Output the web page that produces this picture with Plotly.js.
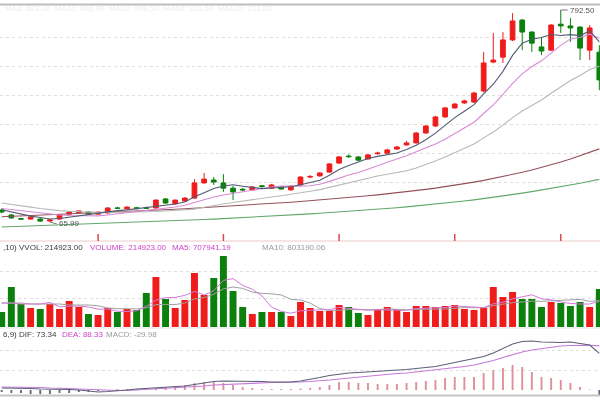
<!DOCTYPE html>
<html><head><meta charset="utf-8">
<script src="https://cdn.plot.ly/plotly-3.0.1.min.js"></script>
<style>html,body{margin:0;padding:0;background:#fff}#chart{width:600px;height:400px;filter:blur(0.35px)}</style>
</head><body><div id="chart"></div>
<script>
// ---- price candles (one per trading day, left to right) ----
const open  = [107,90,77,76,76,69.5,76,93,97,100,93,97,114,111,115,115,114,145,128,138,148,200,210,200,182,178,176,190,182,186,176,193,220,224,237,268,292,289,282,300,302,316,330,337,371,395,426,457,474,477,515,614,631,690,758,717,666,655,744,738,734,655,648];
const high  = [113,93,80,86,79,75,92,103,106,103,102,117,118,120,118,119,144,148,143,151,213,234,220,230,189,183,189,193,196,189,191,223,227,237,268,292,298,292,299,307,317,327,344,374,398,430,460,474,485,512,649,714,717,782,762,720,700,744,792.5,765,737,741,672];
const low   = [96,77,73,74,67,65.99,74,91,95,91,91,95,110,109,110,111,112,129,126,136,146,198,193,169,141,172,174,182,180,177,174,191,216,221,235,265,286,275,280,297,300,314,328,335,369,392,423,454,471,474,510,610,611,686,655,649,638,652,714,683,621,621,518];
const close = [100,80,76,83,69,73,90,100,104,93,100,114,113,117,112,113,141,131,141,148,200,213,203,182,169,176,186,188,193,179,189,220,222,234,265,289,290,278,296,302,313,323,337,371,395,426,457,470,481,508,611,621,690,755,717,679,652,741,738,731,662,731,553];

// ---- price moving averages ----
const ma5   = [108,100,92,86,81.6,76.2,78.2,83,87.2,92,97.4,102.2,105,107.6,111.4,114,119.4,122.8,127.6,134.8,152.2,166.6,181,189.2,193.4,188.6,183.2,180.2,182.4,184.4,187,193.8,200.6,208.8,226,246,260,271.2,283.6,291,295.8,302.4,314.2,329.2,347.8,370.4,397.2,423.8,445.8,468.4,505.4,538.2,582.2,637,678.8,692.4,698.6,708.8,705.4,708.2,704.8,720.6,683];
const ma10  = [112,108,104,100,96,92,90,88,87,86,86.8,90.2,94,97.4,101.7,105.7,110.8,113.9,117.6,123.1,133.1,143,151.9,158.4,164.1,170.4,174.9,180.6,185.8,188.9,187.8,188.5,190.4,195.6,205.2,216.5,226.9,235.9,246.2,258.5,270.9,281.2,292.7,306.4,319.4,333.1,349.8,369,387.5,408.1,437.9,467.7,503,541.4,573.6,598.9,618.4,645.5,671.2,693.5,698.6,709.6,695.9];
const ma20  = [131,127,122,117,112,108,105,103,101,100,99,99,99,100,100,101,102,104,106,108,110,116.6,123,127.9,132.9,138.1,142.9,147.3,151.7,156,160.5,165.8,171.2,177,184.7,193.5,200.9,208.3,216,223.7,229.4,234.9,241.6,251,262.3,274.8,288.4,302.5,316.9,333.3,354.4,374.5,397.9,423.9,446.5,466,484.1,507.3,529.4,550.8,568.3,588.7,599.5];
const ma60  = [84,85.3,86.6,88,89.3,90.7,92,93.4,94.8,96.2,97.6,99,100.5,102,103.5,105,106.6,108.2,109.9,111.6,113.4,115.2,117.1,119,121,123,125.1,127.2,129.4,131.6,133.9,136.3,138.8,141.4,144.1,146.9,149.8,152.8,155.9,159.1,162.4,165.9,169.6,173.5,177.7,182.1,186.8,191.8,197.1,202.7,208.6,214.9,221.6,228.7,236.3,244.4,253,262.1,271.8,282.1,293,304.5,316.6];
const ma120 = [49,50.1,51.2,52.3,53.4,54.5,55.6,56.7,57.8,59,60.2,61.4,62.6,63.8,65,66.2,67.5,68.8,70.1,71.4,72.8,74.3,75.8,77.4,79,80.7,82.4,84.2,86,87.9,89.8,91.8,93.8,95.9,98,100.2,102.5,104.8,107.2,109.7,112.3,115,117.8,120.7,123.8,127,130.4,134,137.8,141.8,146,150.4,155,159.8,164.8,170,175.4,181,186.8,192.8,199,205.4,212];

// ---- volume (10k units) and its averages ----
const vol     = [15,40,23,19,18,23,18,26,20,13,12,19,15,18,17,34,50,28,19,27,54,32,49,71,36,20,13,15,15,15,11,25,19,16,16,22,20,14,12,18,20,18,15,21,21,20,21,22,18,17,19,40,30,35,28,28,20,25,24,21,25,20,38];
const volMa5  = [24,24,23,23,23,24.6,20.2,20.8,21,20,17.8,18,15.8,15.4,16.2,20.6,26.8,29.4,29.6,31.6,35.6,32,36.2,46.6,48.4,41.6,37.8,31,19.8,15.6,13.8,16.2,17,17.2,17.4,19.6,18.6,17.6,16.8,17.2,16.8,16.4,16.6,18.4,19,19,19.6,21,20.4,19.6,19.4,23.2,24.8,28.2,30.4,32.2,28.2,27.2,25,23.6,23,23,25.6];
const volMa10 = [24,24,24,23,23,23,23,22,22,22,21.2,19.1,18.3,18.2,18.1,19.2,22.4,22.6,22.5,23.9,28.1,29.4,32.8,38.1,40,38.6,34.9,33.6,33.2,32,27.7,27,24,18.5,16.5,16.7,17.4,17.3,17,17.3,18.2,17.5,17.1,17.6,18.1,17.9,18,18.8,19.4,19.3,19.2,21.4,22.9,24.3,25,25.8,25.7,26,26.6,27,27.6,25.6,26.4];

// ---- MACD ----
const dif  = [4,4,3,3,2,2,2,1,0,-2,-4,-3,-2,0,2,3,5,6,7,8,11,14,17,18,18,18,17,17,16,16,16,18,21,25,29,32,34,35,36,37,38,40,41,43,45,47,51,55,59,62,67,74,83,92,97,98,96,95,95,96,93,90,73.34];
const dea  = [6,6,6,5,5,4,4,3,2,1,0,-1,-1,-1,0,1,2,3,4,5,6,8,10,11,12,13,14,14,15,15,15,16,17,18,20,22,24,26,28,29,31,33,34,36,38,40,42,44,47,50,54,59,65,71,76,80,83,86,88,89,90,89.5,88.33];
const macd = [-4,-6,-6,-8,-8,-8,-6,-6,-4,-4,-2,0,2,2,2,4,4,6,8,10,14,16,16,14,10,6,4,2,2,2,2,3,4,6,10,16,16,14,14,12,12,12,14,16,18,20,24,26,26,26,34,40,44,50,46,36,26,24,20,14,6,1,-29.98];

// ---- month boundaries (candle index) ----
const monthStarts = [10,23,35,47,58];

const UP = '#f01c1c', DOWN = '#0c800c';
const idx = close.map((_, i) => i);
const dirColor = close.map((c, i) => c >= open[i] ? UP : DOWN);

function line(y, color, axis, w) {
  return {type:'scatter', mode:'lines', x:idx, y:y, yaxis:axis, xaxis:'x',
          line:{color:color, width:w || 1.1}, hoverinfo:'skip'};
}

const traces = [
  line(ma120, '#5fa86a', 'y'),
  line(ma60, '#94505a', 'y'),
  line(ma20, '#b8b8b8', 'y'),
  line(ma10, '#d68ad6', 'y'),
  line(ma5, '#4f5a72', 'y'),
  {type:'candlestick', x:idx, open:open, high:high, low:low, close:close,
   xaxis:'x', yaxis:'y', whiskerwidth:0, hoverinfo:'skip',
   increasing:{line:{color:UP, width:1}, fillcolor:UP},
   decreasing:{line:{color:DOWN, width:1}, fillcolor:DOWN}},
  {type:'bar', x:idx, y:vol, xaxis:'x', yaxis:'y2', width:0.72,
   marker:{color:dirColor, line:{width:0}}, hoverinfo:'skip'},
  line(volMa10, '#a0a0a0', 'y2', 1),
  line(volMa5, '#d27ad8', 'y2', 1),
  {type:'bar', x:idx, y:macd, xaxis:'x', yaxis:'y3', width:0.2,
   marker:{color:macd.map(v => v >= 0 ? '#e0909a' : '#6a6a7a'), line:{width:0}}, hoverinfo:'skip'},
  line(dea, '#c678d8', 'y3', 1.1),
  line(dif, '#5a6078', 'y3', 1.1)
];

const F = 'Liberation Sans, Arial, sans-serif';
const fmt = v => v.toFixed(2);
const L = ma5.length - 1;
function txt(x, y, text, color, anchor) {
  return {xref:'paper', yref:'paper', x:x/600, y:1 - y/400, text:text, showarrow:false,
          xanchor:anchor || 'left', yanchor:'middle', font:{family:F, size:8, color:color}};
}

const shapes = [
  {type:'line', xref:'paper', yref:'paper', x0:0, x1:1, y0:1-4.5/400, y1:1-4.5/400, line:{color:'#bdbdbd', width:2}},
  {type:'line', xref:'paper', yref:'paper', x0:0, x1:1, y0:1-241/400, y1:1-241/400, line:{color:'#eccaca', width:1}},
  {type:'line', xref:'paper', yref:'paper', x0:0, x1:1, y0:1-328/400, y1:1-328/400, line:{color:'#e2e2e2', width:1}},
  {type:'line', xref:'paper', yref:'paper', x0:0, x1:1, y0:1-395.5/400, y1:1-395.5/400, line:{color:'#c4c4c4', width:2}}
].concat(monthStarts.map(m => ({type:'line', xref:'x', yref:'paper', x0:m, x1:m,
   y0:1-241/400, y1:1-234/400, line:{color:'#e04848', width:1.5}})));

const iMax = high.indexOf(Math.max(...high));
const iMin = low.indexOf(Math.min(...low));

const annotations = [
  txt(3, 9, 'MA5: ' + fmt(ma5[L]) + '  MA10: ' + fmt(ma10[L]) + '  MA20: ' + fmt(ma20[L]) + '  MA60: ' + fmt(ma60[L]) + '  MA120: ' + fmt(ma120[L]), '#ededed'),
  txt(1, 247, ',10) VVOL: 214923.00', '#3a3a3a'),
  txt(88, 247, 'VOLUME: 214923.00', '#cc44cc'),
  txt(170, 247, 'MA5: 707941.19', '#cc44cc'),
  txt(260, 247, 'MA10: 803190.06', '#9a9a9a'),
  txt(1, 334, '6,9) DIF: ' + fmt(dif[L]), '#3a3a3a'),
  txt(60, 334, 'DEA: ' + fmt(dea[L]), '#cc44cc'),
  txt(104, 334, 'MACD: ' + fmt(macd[L]), '#9a9a9a'),
  {xref:'x', yref:'y', x:iMax, y:high[iMax], text:fmt(high[iMax]), showarrow:true, arrowhead:0,
   arrowwidth:1, arrowcolor:'#777', ax:7, ay:0, xanchor:'left', yanchor:'middle', font:{family:F, size:8, color:'#555'}},
  {xref:'x', yref:'y', x:iMin, y:low[iMin], text:fmt(low[iMin]), showarrow:true, arrowhead:0,
   arrowwidth:1, arrowcolor:'#777', ax:7, ay:2, xanchor:'left', yanchor:'middle', font:{family:F, size:8, color:'#555'}}
];

const gridAx = {showticklabels:false, showgrid:true, gridcolor:'#dedede', griddash:'dot', gridwidth:1,
                zeroline:false, showline:false, ticks:'', fixedrange:true};

const layout = {
  width:600, height:400, margin:{l:0, r:0, t:0, b:0},
  paper_bgcolor:'#ffffff', plot_bgcolor:'#ffffff', showlegend:false,
  font:{family:F, size:8},
  boxgap:0.3,
  xaxis:{range:[-0.176, 62.07], showticklabels:false, showgrid:false, zeroline:false, showline:false,
         ticks:'', rangeslider:{visible:false}, fixedrange:true},
  yaxis:Object.assign({domain:[0.42, 0.9875], range:[31.7, 809.7], tickvals:[200,300,400,500,600,700]}, gridAx),
  yaxis2:Object.assign({domain:[1-327/400, 1-250/400], range:[0, 77], tickvals:[29,56], anchor:'x'}, gridAx),
  yaxis3:Object.assign({domain:[1-395/400, 1-338/400], range:[-10, 104], tickvals:[40,80], anchor:'x'}, gridAx),
  shapes:shapes,
  annotations:annotations
};

Plotly.newPlot('chart', traces, layout, {staticPlot:true, displayModeBar:false});
</script>
</body></html>
